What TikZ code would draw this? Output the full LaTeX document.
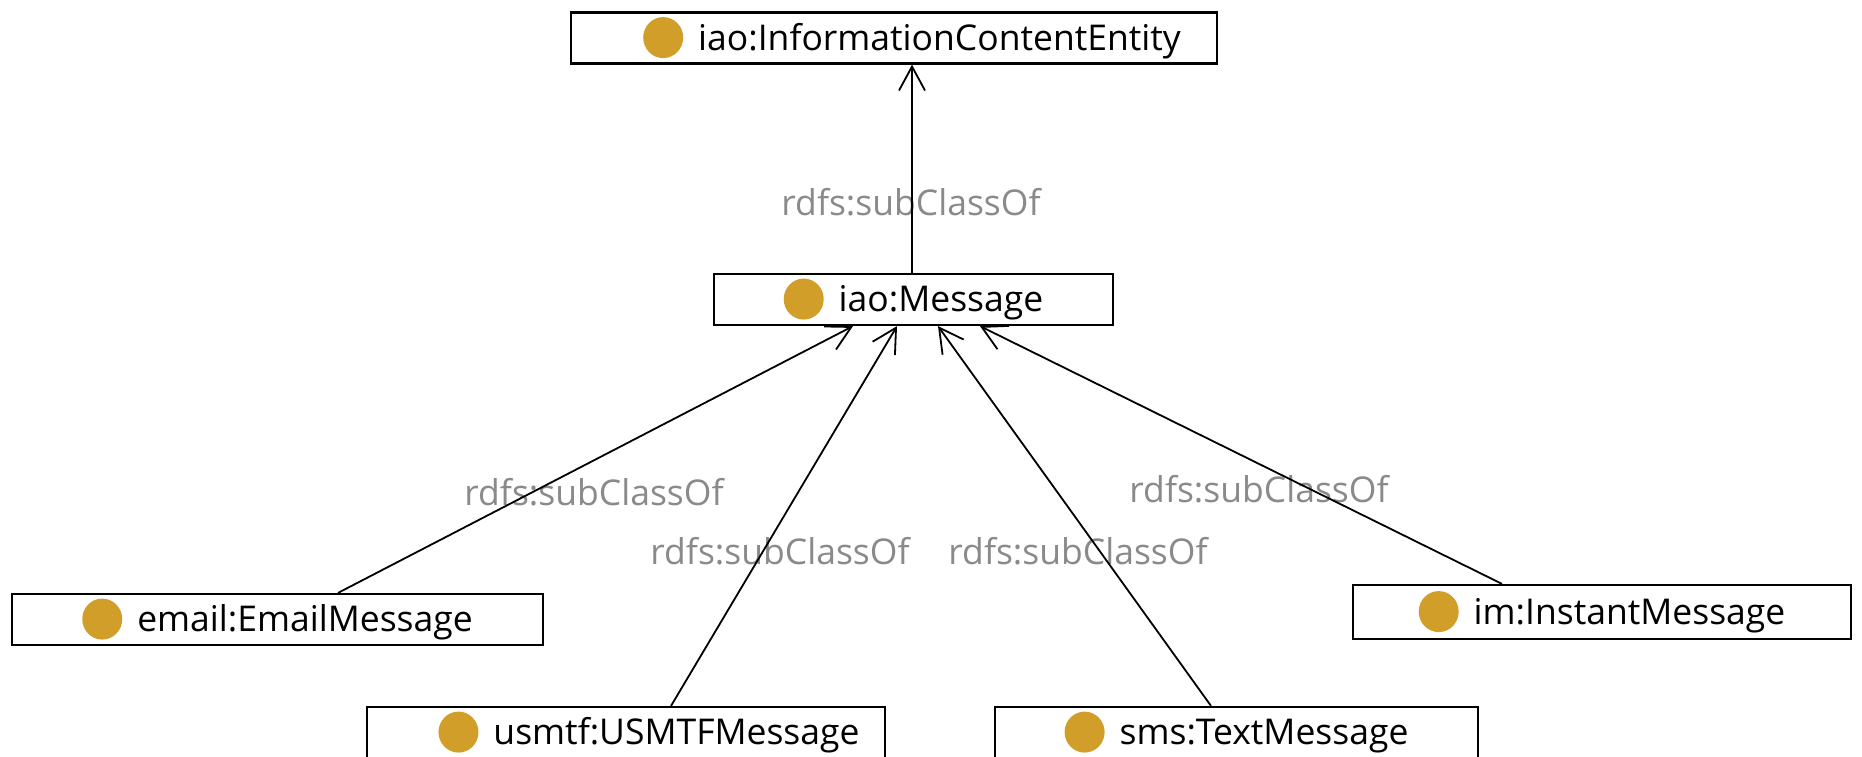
\documentclass[tikz,border=0pt]{standalone}
\usepackage{fontspec}
\setmainfont{Open Sans}
\usetikzlibrary{arrows.meta}
\definecolor{dotc}{RGB}{210,158,42}
\definecolor{lblc}{RGB}{138,138,138}
\newcommand{\clsdot}{\tikz[baseline={(0pt,-12.8pt)}]\fill[dotc] (0pt,0pt) ellipse (20pt and 20.5pt);\hspace{15pt}}
\begin{document}
\begin{tikzpicture}[x=1pt,y=-1pt,
  font=\fontsize{35.5}{42}\selectfont,
  cls/.style={draw, line width=2.2pt, rectangle, inner sep=0pt, minimum height=51pt, fill=white},
  lbl/.style={text=lblc, inner sep=0pt},
  sub/.style={line width=1.8pt, -{Straight Barb[length=24pt,width=26pt]}}]
\fill[white] (0,0) rectangle (1862,756);
\useasboundingbox (0,0) rectangle (1862,756);
\clip (0,0) rectangle (1862,756);
% classes
\node[cls, minimum width=646pt] (ice) at (894,38) {\hspace{36pt}\clsdot iao:InformationContentEntity};
\node[cls, minimum width=399pt] (msg) at (913.5,299.5) {\clsdot iao:Message};
\node[cls, minimum width=531pt] (email) at (277.5,619.5) {\clsdot email:EmailMessage};
\node[cls, minimum width=518pt] (usmtf) at (626,732.5) {\hspace{46pt}\clsdot usmtf:USMTFMessage};
\node[cls, minimum width=483pt] (sms) at (1236.5,732.5) {\clsdot sms:TextMessage};
\node[cls, minimum width=498pt, minimum height=54pt] (im) at (1602,612) {\clsdot im:InstantMessage};
% labels
\node[lbl] (l0) at (911,202) {rdfs:subClassOf};
\node[lbl] (l1) at (594,492) {rdfs:subClassOf};
\node[lbl] (l2) at (780,551) {rdfs:subClassOf};
\node[lbl] (l3) at (1078,551) {rdfs:subClassOf};
\node[lbl] (l4) at (1259,489) {rdfs:subClassOf};
% connectors
\draw[sub] ([xshift=-1.5pt]msg.north) -- ([xshift=-1.5pt]msg.north |- ice.south);
\draw[sub] ([xshift=60.5pt]email.north) -- ([xshift=-60.5pt]msg.south);
\draw[sub] ([xshift=45pt]usmtf.north) -- ([xshift=-16.5pt]msg.south);
\draw[sub] ([xshift=-25.5pt]sms.north) -- ([xshift=24.5pt]msg.south);
\draw[sub] ([xshift=-100pt]im.north) -- ([xshift=66.5pt]msg.south);
\end{tikzpicture}
\end{document}
